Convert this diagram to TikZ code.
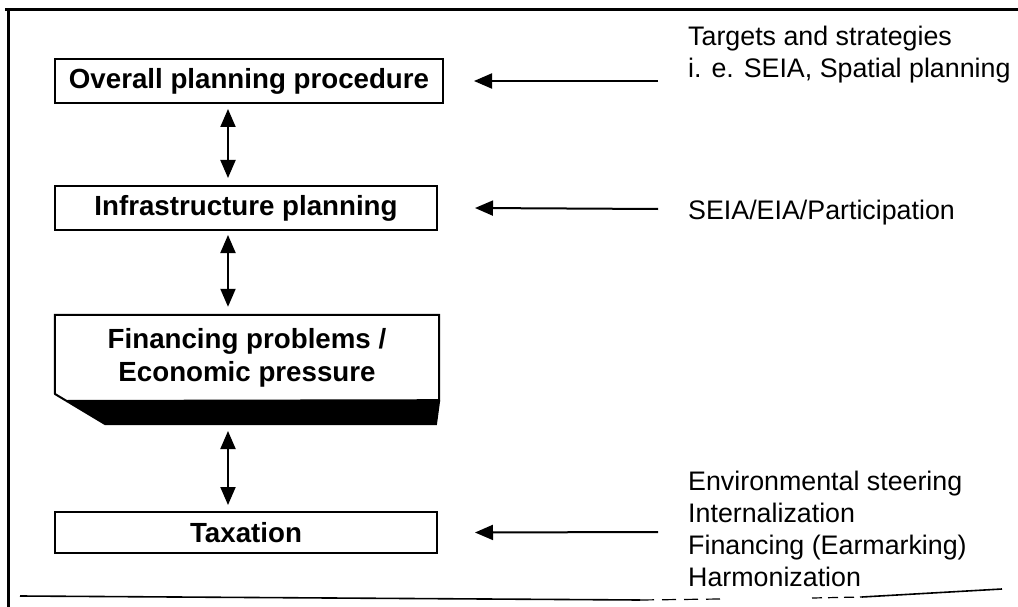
\documentclass[tikz,border=0pt]{standalone}
\usepackage{fontspec}
\setmainfont{Liberation Sans}
\usetikzlibrary{arrows.meta}

\tikzset{
  x=1pt, y=-1pt,
  stagefont/.style={font=\fontsize{27.7}{33}\selectfont\bfseries},
  stagebox/.style={draw, line width=2pt, inner sep=0pt, stagefont, align=center},
  notetext/.style={anchor=base west, inner sep=0pt, align=left,
    font=\fontsize{26.8}{32}\selectfont},
  inarrow/.style={line width=2pt, -{Triangle[length=18pt, width=15pt]}},
  linkarrow/.style={line width=2pt, {Triangle[length=18pt, width=15pt]}-{Triangle[length=18pt, width=15pt]}},
  framerule/.style={line width=3pt}
}

\begin{document}
\begin{tikzpicture}
\useasboundingbox (0,0) rectangle (1018,607);

% outer frame, open on the right
\draw[framerule] (5,10) -- (1018,10);
\draw[framerule] (8,10) -- (8,607);
\draw[line width=1.6pt] (20,596) -- (640,600);
\draw[line width=1.2pt, dash pattern=on 14pt off 8pt] (640,600) -- (720,599);
\draw[line width=1.2pt, dash pattern=on 10pt off 6pt] (812,598) -- (862,597);
\draw[line width=1.6pt] (862,597) -- (1002,589);

% stages
\node[stagebox, minimum width=388pt, minimum height=44pt] (b1) at (249,81) {Overall planning procedure};
\node[stagebox, minimum width=382pt, minimum height=44pt] (b2) at (246,208) {Infrastructure planning};
\node[inner sep=0pt, minimum width=384pt, minimum height=85pt, stagefont, align=center] (b3)
  at (247,357.5) {Financing problems /\\Economic pressure};
\node[stagebox, minimum width=382pt, minimum height=41pt] (b4) at (246,532.5) {Taxation};

% raised box with dark base
\fill[black] (66.7,401) -- (105,424) -- (436,424) -- (b3.south east) -- cycle;
\draw[line width=2pt, line join=miter]
  (b3.north west) -- (b3.north east) -- (b3.south east) -- (66.7,401) -- (55,394) -- cycle;
\draw[line width=2pt] (66.7,401) -- (105,424) -- (436,424) -- (b3.south east);

% links between stages
\draw[linkarrow] ([xshift=-21pt,yshift=-5pt]b1.south) -- ([xshift=-18pt,yshift=7pt]b2.north);
\draw[linkarrow] ([xshift=-18pt,yshift=-4pt]b2.south) -- ([xshift=-19pt,yshift=8pt]b3.north);
\draw[linkarrow] (228,431) -- ([xshift=-18pt,yshift=6pt]b4.north);

% inputs on the right
\node[notetext] (t1) at (688,78) {Targets and strategies\\i. e. SEIA, Spatial planning};
\node[notetext] (t2) at (688,219) {SEIA/EIA/Participation};
\node[notetext] (t4) at (688,586) {Environmental steering\\Internalization\\Financing (Earmarking)\\Harmonization};

\coordinate (s1) at (658,81);
\coordinate (s2) at (658,209);
\coordinate (s4) at (658,532);
\draw[inarrow] (s1) -- ([xshift=30pt]b1.east);
\draw[inarrow] (s2) -- ([xshift=37pt]b2.east);
\draw[inarrow] (s4) -- ([xshift=37pt]b4.east);
\end{tikzpicture}
\end{document}
